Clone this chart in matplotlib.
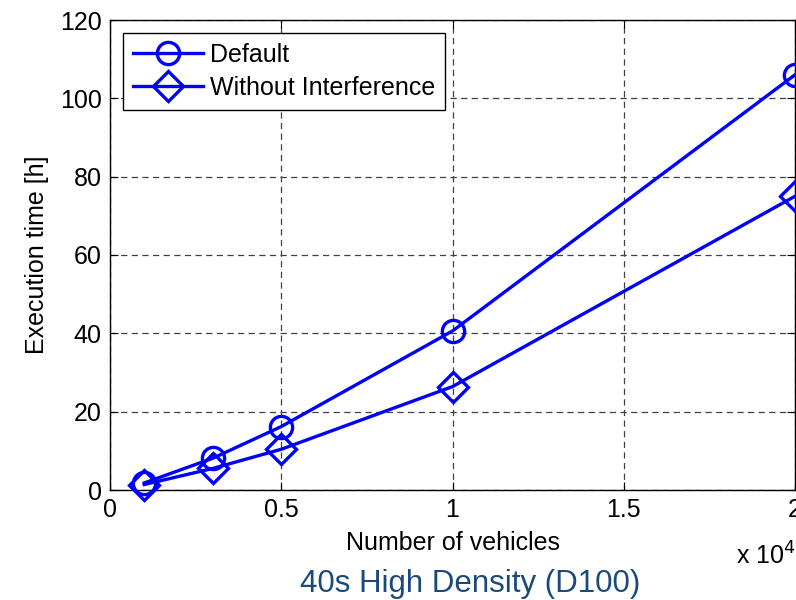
import matplotlib
matplotlib.use("Agg")
import matplotlib.pyplot as plt

vehicles = [1000, 3000, 5000, 10000, 20000]
default_h = [1.8, 8.1, 16.2, 40.6, 106.0]
without_h = [1.4, 5.5, 10.4, 26.4, 75.0]
xticks = [0, 0.5, 1, 1.5, 2]
xticklabels = ["0", "0.5", "1", "1.5", "2"]
yticks = [0, 20, 40, 60, 80, 100, 120]

plt.rcParams['font.family'] = ['Liberation Sans', 'DejaVu Sans']
fig = plt.figure(figsize=(7.96, 6.0), dpi=100)
ax = fig.add_axes([110/796, 1-490/600, 685/796, 470/600])

xs = [v/1e4 for v in vehicles]
ax.plot(xs, default_h, color='#0000ff', lw=2.4, marker='o', ms=16,
        mfc='none', mew=2.4, label='Default', clip_on=False, zorder=3)
ax.plot(xs, without_h, color='#0000ff', lw=2.4, marker='D', ms=15,
        mfc='none', mew=2.4, label='Without Interference', clip_on=False, zorder=3)

ax.set_xlim(0, 2)
ax.set_ylim(0, 120)
ax.set_xticks(xticks)
ax.set_xticklabels(xticklabels)
ax.set_yticks(yticks)
ax.tick_params(direction='in', top=True, right=True, labelsize=18, length=6, pad=6)
ax.grid(True, color='#404040', ls=(0, (5, 3.5)), lw=0.9)
for s in ax.spines.values():
    s.set_linewidth(1.0)
ax.set_xlabel('Number of vehicles', fontsize=18, labelpad=6)
ax.set_ylabel('Execution time [h]', fontsize=18, labelpad=8)
fig.text(736/796, 1-556/600, r'x 10$^4$', fontsize=18, ha='left', va='center')
fig.text(470/796, 1-584/600, '40s High Density (D100)', fontsize=22.5,
         color='#1a4a7a', ha='center', va='center')

leg = ax.legend(loc='upper left', fontsize=18, frameon=True, fancybox=False,
                edgecolor='black', framealpha=1, borderaxespad=0.5,
                handlelength=2.8, handletextpad=0.3, labelspacing=0.38,
                borderpad=0.4, markerscale=1.0)
leg.get_frame().set_linewidth(1.0)

fig.savefig('out.png', dpi=100)
